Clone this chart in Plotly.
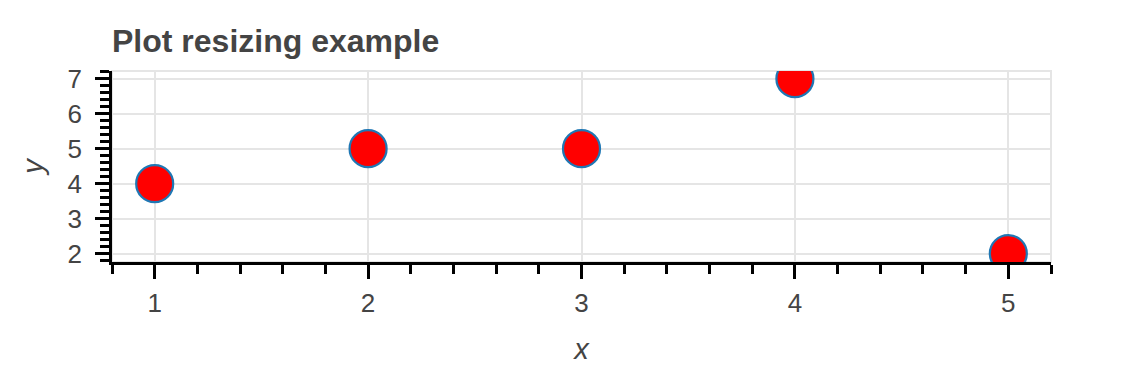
import plotly.graph_objects as go

x_values = [1, 2, 3, 4, 5]
y_values = [4, 5, 5, 7, 2]
title_text = "Plot resizing example"
x_label = "x"
y_label = "y"

FONT = "Liberation Sans, Arial, sans-serif"
TXT = "#444444"

fig = go.Figure()
fig.add_trace(go.Scatter(
    x=x_values, y=y_values, mode="markers",
    marker=dict(size=37, color="red", line=dict(color="#1f77b4", width=2.2)),
    cliponaxis=True, showlegend=False,
))

axis_common = dict(
    showgrid=True, gridcolor="#e5e5e5", gridwidth=2,
    zeroline=False, showline=True, linecolor="black", linewidth=2.5,
    ticks="outside", ticklen=14, tickwidth=2.5, tickcolor="black",
    tickfont=dict(family=FONT, size=26, color=TXT),
    minor=dict(ticks="outside", ticklen=9, tickwidth=2.5, tickcolor="black",
               dtick=0.2, showgrid=False),
    dtick=1,
)

fig.update_xaxes(
    range=[0.8, 5.2], tick0=1, ticklabelstandoff=2, **axis_common,
    title=dict(text=x_label, font=dict(family=FONT, size=29, color=TXT, style="italic"), standoff=22),
)
fig.update_yaxes(
    range=[1.76, 7.22], tick0=2, ticklabelstandoff=8, **axis_common,
    title=dict(text=y_label, font=dict(family=FONT, size=29, color=TXT, style="italic"), standoff=16),
)

# light frame outline around plot area
fig.add_shape(type="rect", xref="x domain", yref="y domain", x0=0, x1=1, y0=0, y1=1,
              line=dict(color="#e5e5e5", width=2), layer="below")

fig.update_layout(
    width=1125, height=375,
    margin=dict(l=112, r=74, t=71, b=113),
    plot_bgcolor="white", paper_bgcolor="white",
    title=dict(text="<b>" + title_text + "</b>", x=0, xref="paper", xanchor="left",
               y=1, yref="paper", yanchor="bottom", pad=dict(b=19),
               font=dict(family=FONT, size=32, color=TXT)),
)

fig.write_html("out.html")
